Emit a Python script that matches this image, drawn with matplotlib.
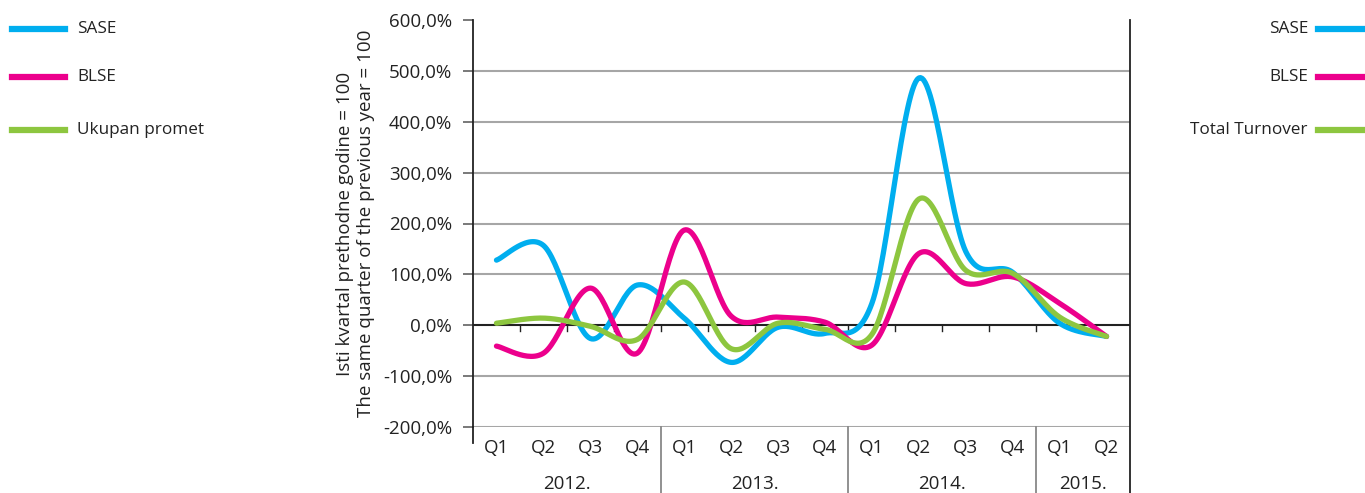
import numpy as np
import matplotlib.pyplot as plt
from matplotlib.lines import Line2D

plt.rcParams['font.family'] = ['Open Sans', 'DejaVu Sans']

quarters = ['Q1', 'Q2', 'Q3', 'Q4', 'Q1', 'Q2', 'Q3', 'Q4', 'Q1', 'Q2', 'Q3', 'Q4', 'Q1', 'Q2']
years = ['2012.', '2013.', '2014.', '2015.']
year_sizes = [4, 4, 4, 2]

sase = [128, 157, -26, 79, 14, -73, -4, -16, 43, 486, 145, 104, 4, -22]
blse = [-41, -55, 73, -55, 187, 18, 16, 6, -39, 141, 82, 95, 43, -22]
total = [4, 14, -2, -28, 85, -46, 4, -8, -18, 248, 108, 102, 16, -22]

names_left = ['SASE', 'BLSE', 'Ukupan promet']
names_right = ['SASE', 'BLSE', 'Total Turnover']
colors = ['#00AEEF', '#EC008C', '#8DC63F']

def smooth(y, n=30):
    # catmull-rom through the points, like excel's smoothed line
    y = np.asarray(y, dtype=float)
    x = np.arange(len(y), dtype=float)
    px = np.concatenate([[x[0]], x, [x[-1]]])
    py = np.concatenate([[y[0]], y, [y[-1]]])
    xs, ys = [], []
    t = np.linspace(0, 1, n)
    for i in range(1, len(px) - 2):
        for p, out in ((px, xs), (py, ys)):
            p0, p1, p2, p3 = p[i-1], p[i], p[i+1], p[i+2]
            c1 = p1 + (p2 - p0) / 6.
            c2 = p2 - (p3 - p1) / 6.
            out.extend((1-t)**3*p1 + 3*(1-t)**2*t*c1 + 3*(1-t)*t**2*c2 + t**3*p2)
    return np.array(xs), np.array(ys)

fig = plt.figure(figsize=(13.65, 4.93), dpi=100)
ax = fig.add_axes([473/1365, 1-427/493, (1130-473)/1365, (427-20)/493])

ax.set_xlim(-0.5, 13.5)
ax.set_ylim(-200, 600)
yt = np.arange(-200, 601, 100)
ax.set_yticks(yt)
ax.set_yticklabels(['%d,0%%' % v for v in yt], fontsize=13.5, color='#222222')
for v in yt[:-1]:
    if v != 0:
        ax.axhline(v, color='#a6a6a6', lw=1.5, zorder=1)
ax.axhline(0, color='#222222', lw=1.5, zorder=2)

for s, c in zip([sase, blse, total], colors):
    xs, ys = smooth(s)
    ax.plot(xs, ys, color=c, lw=3.8, solid_capstyle='round', zorder=3)

for sp in ['top', 'bottom']:
    ax.spines[sp].set_visible(False)
ax.spines['left'].set_color('#222222')
ax.spines['left'].set_linewidth(1.3)
ax.spines['right'].set_visible(False)
ax.tick_params(axis='y', length=7, width=1.1, color='#555555', pad=8)
ax.set_xticks([])

tr = ax.get_xaxis_transform()
# small ticks hanging from the zero line
for b in np.arange(0.5, 13.5, 1.0):
    ax.plot([b, b], [0, -12], color='#222222', lw=1, zorder=2)
# left spine extension, right border, year separators
ax.add_line(Line2D([-0.5, -0.5], [-0.04, 0], transform=tr, color='#222222', lw=1.3, clip_on=False))
ax.add_line(Line2D([13.5, 13.5], [-0.2, 1.0], transform=tr, color='#222222', lw=1.3, clip_on=False))
pos = -0.5
for k, sz in enumerate(year_sizes):
    if k > 0:
        ax.add_line(Line2D([pos, pos], [-0.2, 0], transform=tr, color='#888888', lw=1.3, clip_on=False))
    ax.text(pos + sz/2., -0.14, years[k], transform=tr, ha='center', va='center', fontsize=13.5, color='#222222')
    pos += sz
for i, q in enumerate(quarters):
    ax.text(i, -0.052, q, transform=tr, ha='center', va='center', fontsize=13.5, color='#222222')

ax.set_ylabel('Isti kvartal prethodne godine = 100\nThe same quarter of the previous year = 100',
              fontsize=13.5, color='#222222', labelpad=6, linespacing=1.15)

# legends drawn as lines + text in figure pixels
ly = [29, 77, 130]
for i in range(3):
    y = 1 - ly[i]/493
    fig.add_artist(Line2D([12/1365, 65/1365], [y, y], color=colors[i], lw=4.5))
    fig.text(77/1365, y, names_left[i], ha='left', va='center', fontsize=12.3, color='#222222')
    fig.add_artist(Line2D([1318/1365, 1.0], [y, y], color=colors[i], lw=4.5))
    fig.text(1308/1365, y, names_right[i], ha='right', va='center', fontsize=12.3, color='#222222')

fig.savefig('out.png', dpi=100)
